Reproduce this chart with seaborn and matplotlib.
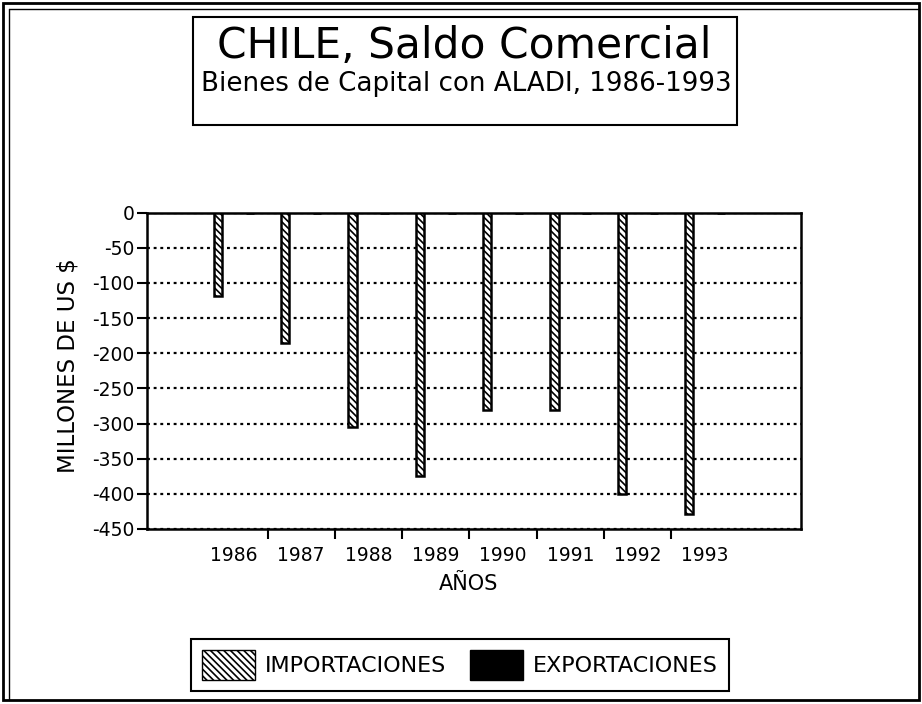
import matplotlib
matplotlib.use('Agg')
import matplotlib.pyplot as plt
import seaborn as sns
import pandas as pd
import numpy as np
from matplotlib.patches import Rectangle, Patch
from matplotlib.lines import Line2D

# ---- data ----
years = ['1986', '1987', '1988', '1989', '1990', '1991', '1992', '1993']
importaciones = [-118, -186, -305, -374, -281, -281, -400, -429]
exportaciones = [0, 0, 0, 0, 0, 0, 0, 0]
series = ['IMPORTACIONES', 'EXPORTACIONES']
yticks = [0, -50, -100, -150, -200, -250, -300, -350, -400, -450]

title = 'CHILE, Saldo Comercial'
subtitle = 'Bienes de Capital con ALADI, 1986-1993'
ylabel = 'MILLONES DE US $'
xlabel = 'AÑOS'

sns.set_style('ticks')
plt.rcParams['font.family'] = ['DejaVu Sans']
plt.rcParams['hatch.linewidth'] = 1.2
plt.rcParams['hatch.color'] = 'black'
plt.rcParams['text.color'] = 'black'

W, H = 922, 704
fig = plt.figure(figsize=(W / 100, H / 100), dpi=100)
fig.patch.set_facecolor('white')


def fx(x):
    return x / W


def fy(y):
    return 1 - y / H


ax = fig.add_axes([fx(147), fy(529), fx(800.7) - fx(147), fy(212.7) - fy(529)])

df = pd.DataFrame({
    'year': years * 2,
    'serie': [series[0]] * len(years) + [series[1]] * len(years),
    'valor': importaciones + exportaciones,
})
sns.barplot(data=df, x='year', y='valor', hue='serie', dodge=True, width=0.95,
            palette=['white', 'black'], saturation=1, errorbar=None,
            legend=False, ax=ax)

n = len(years)
bar_w = 0.125
for i, p in enumerate(ax.patches):
    c = p.get_x() + p.get_width() / 2
    p.set_width(bar_w)
    p.set_x(c - bar_w / 2)
    p.set_edgecolor('black')
    p.set_linewidth(1.8)
    if i < n:
        p.set_facecolor('white')
        p.set_hatch('\\\\\\\\\\')
    else:
        p.set_facecolor('black')
    p.set_zorder(3)

ax.set_ylim(-450, 0)
ax.set_xlim(-1.29, 8.42)
ax.set_yticks(yticks)
ax.set_yticklabels([str(v) for v in yticks])
ax.set_xticks(range(n))
ax.set_xticklabels(years)
ax.set_xticks(np.arange(0.5, n - 1, 1), minor=True)

ax.grid(True, axis='y', color='black', linestyle=(0, (1.3, 1.7)), linewidth=1.6)
ax.set_axisbelow(True)

for s in ax.spines.values():
    s.set_visible(True)
    s.set_color('black')
    s.set_linewidth(1.8)

ax.tick_params(axis='y', direction='out', length=7, width=1.5, color='black',
               labelsize=13.5, pad=2, left=True, labelcolor='black')
ax.tick_params(axis='x', which='major', length=0, labelsize=13.5, pad=12,
               labelcolor='black')
ax.tick_params(axis='x', which='minor', direction='out', length=7, width=1.5,
               color='black', bottom=True)

ax.set_xlabel(xlabel, fontsize=15, color='black')
ax.set_ylabel(ylabel, fontsize=16.5, color='black')
ax.xaxis.set_label_coords((469 - 147) / 653.7, -(584 - 529) / 316.3)
ax.yaxis.set_label_coords(-(147 - 68) / 653.7, (529 - 366) / 316.3)
ax.xaxis.label.set_va('center')
ax.yaxis.label.set_va('center')

# title box
fig.add_artist(Rectangle((fx(193), fy(125)), fx(737) - fx(193), fy(17) - fy(125),
                         transform=fig.transFigure, fill=False, lw=1.5,
                         ec='black'))
fig.text(fx(464), fy(46), title, fontsize=30.5, ha='center', va='center',
         color='black')
fig.text(fx(466), fy(84), subtitle, fontsize=18.8, ha='center', va='center',
         color='black')

# legend
handles = [Patch(facecolor='white', edgecolor='black', hatch='\\\\\\\\\\', lw=1),
           Patch(facecolor='black', edgecolor='black')]
leg = fig.legend(handles=handles, labels=series, loc='center',
                 bbox_to_anchor=(fx(460), fy(665)), ncol=2, fontsize=16,
                 frameon=True, fancybox=False, edgecolor='black',
                 handlelength=2.35, handleheight=1.75, handletextpad=0.45,
                 columnspacing=1.1, borderpad=0.5, framealpha=1,
                 labelcolor='black')
leg.get_frame().set_linewidth(1.5)

# outer frame
fig.add_artist(Rectangle((fx(3), fy(700)), fx(919) - fx(3), fy(3) - fy(700),
                         transform=fig.transFigure, fill=False, lw=2,
                         ec='black'))
fig.add_artist(Line2D([fx(9), fx(919)], [fy(9), fy(9)], transform=fig.transFigure,
                      color='black', lw=1))
fig.add_artist(Line2D([fx(9), fx(9)], [fy(9), fy(700)], transform=fig.transFigure,
                      color='black', lw=1))

fig.savefig('out.png', dpi=100)
